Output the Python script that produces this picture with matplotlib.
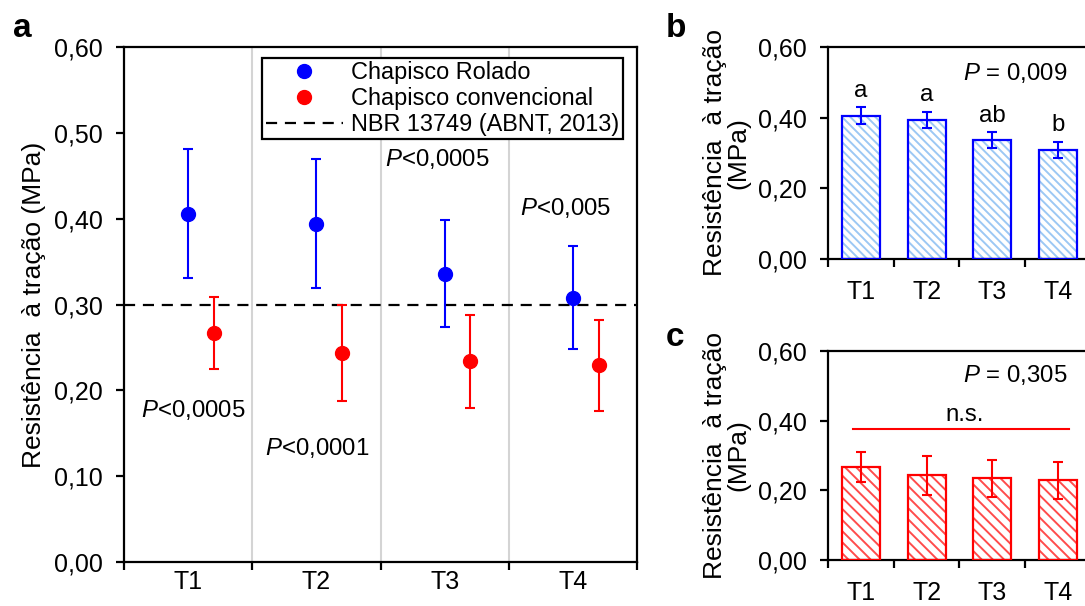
import matplotlib
matplotlib.use("Agg")
import matplotlib.pyplot as plt
import numpy as np
from matplotlib.lines import Line2D

plt.rcParams['font.family'] = ['Liberation Sans', 'DejaVu Sans']
plt.rcParams['mathtext.fontset'] = 'custom'
plt.rcParams['mathtext.rm'] = 'Liberation Sans'
plt.rcParams['mathtext.it'] = 'Liberation Sans:italic'
plt.rcParams['hatch.linewidth'] = 1.4

# data
groups = ["T1", "T2", "T3", "T4"]
rolado_mean = [0.406, 0.394, 0.336, 0.308]
rolado_sd = [0.075, 0.075, 0.062, 0.060]
rolado_se = [0.023, 0.022, 0.023, 0.023]
conv_mean = [0.267, 0.244, 0.234, 0.229]
conv_sd = [0.042, 0.056, 0.054, 0.053]
nbr_limit = 0.30
pair_p = ["$P$<0,0005", "$P$<0,0001", "$P$<0,0005", "$P$<0,005"]
pair_p_xy = [(0.04, 0.177), (1.01, 0.133), (1.94, 0.469), (2.94, 0.412)]
tukey_letters = ["a", "a", "ab", "b"]
anova_b = "$P$ = 0,009"
anova_c = "$P$ = 0,305"

BLUE, RED = "#0000ff", "#ff0000"
FS = 17.3      # annotations
LEGFS = 16.9   # legend
TFS = 18       # tick labels
LFS = 19       # axis labels
x = np.arange(len(groups))
ylab = "Resistência  à tração"


def style_axes(ax, ticks, xpad):
    for s in ax.spines.values():
        s.set_linewidth(1.6)
    ax.set_xlim(-0.5, 3.5)
    ax.set_ylim(0, 0.6)
    ax.set_yticks(ticks)
    ax.set_yticklabels([f"{t:.2f}".replace(".", ",") for t in ticks])
    ax.set_xticks(np.arange(-0.5, 4, 1))
    ax.set_xticklabels([])
    ax.set_xticks(x, minor=True)
    ax.set_xticklabels(groups, minor=True)
    ax.tick_params(axis="both", which="major", direction="out", length=6,
                   width=1.6, labelsize=TFS)
    ax.tick_params(axis="y", pad=9)
    ax.tick_params(axis="x", which="minor", length=0, labelsize=TFS, pad=xpad)


fig = plt.figure(figsize=(10.85, 6.06), dpi=100)

# ---- panel a
ax = fig.add_axes([124 / 1085, 44 / 606, 513 / 1085, 515 / 606])
style_axes(ax, np.arange(0, 0.61, 0.1), 6)
for b in [0.5, 1.5, 2.5]:
    ax.axvline(b, color="#d4d4d4", lw=1.5, zorder=0)
ax.axhline(nbr_limit, color="black", lw=1.6, ls=(0, (5, 3.5)), zorder=1)
ax.errorbar(x, rolado_mean, yerr=rolado_sd, fmt="o", color=BLUE, ms=10,
            elinewidth=1.5, capsize=3.8, capthick=1.5, zorder=3)
ax.errorbar(x + 0.2, conv_mean, yerr=conv_sd, fmt="o", color=RED, ms=10,
            elinewidth=1.5, capsize=3.8, capthick=1.5, zorder=3)
for txt, (tx, ty) in zip(pair_p, pair_p_xy):
    ax.text(tx, ty, txt, ha="center", va="center", fontsize=FS)
ax.set_ylabel(ylab + " (MPa)", fontsize=LFS, labelpad=6)
handles = [Line2D([], [], ls="none", marker="o", color=BLUE, ms=10),
           Line2D([], [], ls="none", marker="o", color=RED, ms=10),
           Line2D([], [], color="black", lw=1.6, ls=(0, (5, 3.5)))]
leg = ax.legend(handles, ["Chapisco Rolado", "Chapisco convencional",
                          "NBR 13749 (ABNT, 2013)"],
                loc="upper left", bbox_to_anchor=(0.269, 0.979),
                fontsize=LEGFS, fancybox=False, framealpha=1,
                edgecolor="black", borderpad=0.15, labelspacing=0.12,
                handlelength=3.3, handletextpad=0.35, borderaxespad=0)
leg.get_frame().set_linewidth(1.6)
fig.text(13 / 1085, 1 - 37 / 606, "a", fontsize=24, fontweight="bold")

# ---- panel b
axb = fig.add_axes([828 / 1085, 347 / 606, 263 / 1085, 212 / 606])
style_axes(axb, np.arange(0, 0.61, 0.2), 15)
axb.bar(x, rolado_mean, width=0.58, color="white", edgecolor="#9cc8f4",
        hatch="\\\\\\\\", lw=0, zorder=2)
axb.bar(x, rolado_mean, width=0.58, color="none", edgecolor=BLUE, lw=1.6,
        zorder=3)
axb.errorbar(x, rolado_mean, yerr=rolado_se, fmt="none", ecolor=BLUE,
             elinewidth=1.5, capsize=3.8, capthick=1.5, zorder=4)
for xi, m, e, t in zip(x, rolado_mean, rolado_se, tukey_letters):
    axb.text(xi, m + e + 0.03, t, ha="center", va="baseline", fontsize=FS)
axb.text(3.14, 0.527, anova_b, ha="right", va="center", fontsize=FS)
axb.set_ylabel(ylab + "\n(MPa)", fontsize=LFS, labelpad=6, linespacing=0.95)
fig.text(666 / 1085, 1 - 37 / 606, "b", fontsize=24, fontweight="bold")

# ---- panel c
axc = fig.add_axes([828 / 1085, 46 / 606, 263 / 1085, 209 / 606])
style_axes(axc, np.arange(0, 0.61, 0.2), 15)
axc.bar(x, conv_mean, width=0.58, color="white", edgecolor="#ff4c4c",
        hatch="\\\\\\", lw=0, zorder=2)
axc.bar(x, conv_mean, width=0.58, color="none", edgecolor=RED, lw=1.6,
        zorder=3)
axc.errorbar(x, conv_mean, yerr=conv_sd, fmt="none", ecolor=RED,
             elinewidth=1.5, capsize=3.8, capthick=1.5, zorder=4)
axc.plot([-0.12, 3.16], [0.377, 0.377], color=RED, lw=1.5)
axc.text(1.58, 0.415, "n.s.", ha="center", va="center", fontsize=FS)
axc.text(3.14, 0.530, anova_c, ha="right", va="center", fontsize=FS)
axc.set_ylabel(ylab + "\n(MPa)", fontsize=LFS, labelpad=6, linespacing=0.95)
fig.text(666 / 1085, 1 - 346 / 606, "c", fontsize=24, fontweight="bold")

fig.savefig("out.png", dpi=100)
